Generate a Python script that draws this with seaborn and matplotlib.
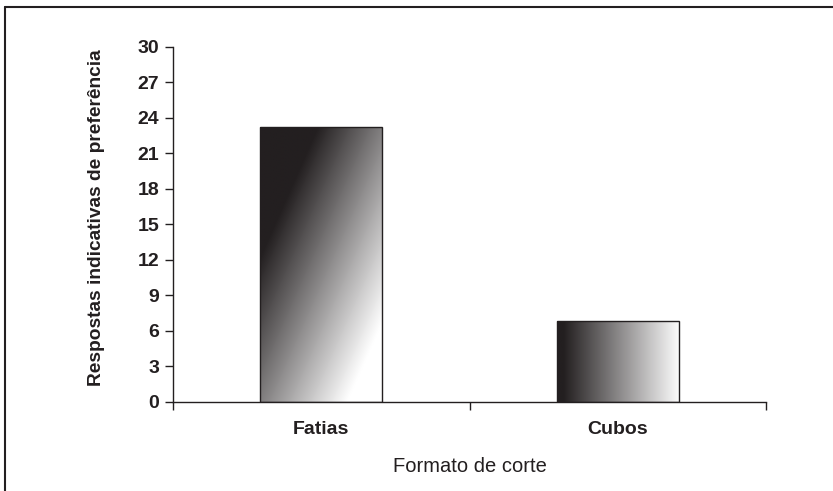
import numpy as np
import pandas as pd
import matplotlib
matplotlib.use("Agg")
import matplotlib.pyplot as plt
from matplotlib.colors import LinearSegmentedColormap
from matplotlib.lines import Line2D
import seaborn as sns

# --- data ---
categories = ["Fatias", "Cubos"]
responses = [23.2, 6.8]
y_ticks = [0, 3, 6, 9, 12, 15, 18, 21, 24, 27, 30]

df = pd.DataFrame({"formato": categories, "respostas": responses})

sns.set_theme(style="ticks")
plt.rcParams["font.family"] = ["Liberation Sans", "DejaVu Sans"]

fig = plt.figure(figsize=(8.33, 4.91), dpi=100)
ax = fig.add_axes([173 / 833, 1 - 402 / 491, (766 - 173) / 833, (402 - 46.7) / 491])

sns.barplot(data=df, x="formato", y="respostas", ax=ax, width=0.41,
            facecolor="none", edgecolor="#231f20", linewidth=1.0)

# gradient fill clipped to each bar (Excel-style fill)
cmap = LinearSegmentedColormap.from_list("bw", ["#231f20", "#ffffff"])
n = 200
uu, vv = np.meshgrid(np.linspace(0, 1, n), np.linspace(0, 1, n))  # v: 0 top -> 1 bottom
grads = [
    np.clip((uu + vv - 0.47) / 1.25, 0, 1),   # tall bar: diagonal
    np.clip((uu - 0.05) / 0.97, 0, 1),        # short bar: horizontal
]
for patch, g in zip(ax.patches, grads):
    x0, y0 = patch.get_x(), patch.get_y()
    w, h = patch.get_width(), patch.get_height()
    im = ax.imshow(g, cmap=cmap, vmin=0, vmax=1, aspect="auto",
                   extent=[x0, x0 + w, y0, y0 + h], origin="upper",
                   interpolation="bilinear", zorder=1)
    im.set_clip_path(patch)
    patch.set_zorder(2)

ax.set_xlim(-0.5, 1.5)
ax.set_ylim(0, 30)
ax.set_yticks(y_ticks)
ax.set_xticks([0, 1])
ax.set_xticklabels(categories)
ax.set_xticks([-0.5, 0.5, 1.5], minor=True)
ax.tick_params(axis="x", which="major", length=0, pad=14, labelsize=14)
ax.tick_params(axis="x", which="minor", length=6, width=1, color="#231f20", direction="out")
ax.tick_params(axis="y", length=6, width=1, color="#231f20", labelsize=14, pad=4)
for lab in ax.get_xticklabels() + ax.get_yticklabels():
    lab.set_fontweight("bold")
    lab.set_color("#231f20")

sns.despine(ax=ax)
for s in ["left", "bottom"]:
    ax.spines[s].set_color("#231f20")
    ax.spines[s].set_linewidth(1.0)

ax.set_xlabel("Formato de corte", fontsize=14.5, color="#231f20", labelpad=13)
ax.set_ylabel("Respostas indicativas de preferência", fontsize=13.8, fontweight="bold",
              color="#231f20")
ax.yaxis.set_label_coords(-0.114, 0.52)

# outer frame (top and left only)
fig.add_artist(Line2D([4.5 / 833, 1.0], [1 - 6.5 / 491, 1 - 6.5 / 491],
                      transform=fig.transFigure, color="#231f20", linewidth=1.5))
fig.add_artist(Line2D([4.5 / 833, 4.5 / 833], [0, 1 - 6.5 / 491],
                      transform=fig.transFigure, color="#231f20", linewidth=1.5))

fig.savefig("out.png", dpi=100, facecolor="white")
